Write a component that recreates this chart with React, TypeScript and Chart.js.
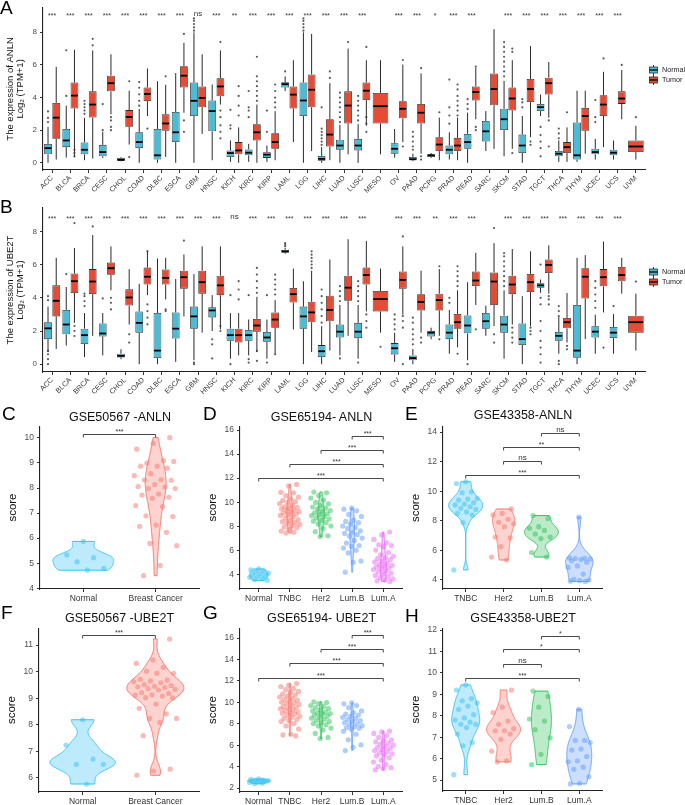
import React, { useEffect, useRef } from "react";
import { Chart, registerables } from "chart.js";

Chart.register(...registerables);

const FONT = "'Liberation Sans', Arial, Helvetica, sans-serif";
Chart.defaults.font.family = FONT;

// ================= Panels A & B (TCGA pan-cancer boxplots) =================
const CANCERS = ["ACC","BLCA","BRCA","CESC","CHOL","COAD","DLBC","ESCA","GBM","HNSC","KICH","KIRC","KIRP","LAML","LGG","LIHC","LUAD","LUSC","MESO","OV","PAAD","PCPG","PRAD","READ","SARC","SKCM","STAD","TGCT","THCA","THYM","UCEC","UCS","UVM"];
const BOX_Y_TICKS = [0, 2, 4, 6, 8];

// [lower whisker, Q1, median, Q3, upper whisker]
const ANLN_NORMAL = [
  [0,0.52,0.9,1.16,2.2],[0.32,0.96,1.37,2.07,3.5],[0.16,0.52,0.8,1.25,2.75],[0.3,0.4,0.66,1.1,1.9],[0.1,0.12,0.18,0.3,0.35],
  [0,0.9,1.27,1.87,3.3],[0,0.2,0.46,2.07,5.0],[0,1.27,1.87,3.11,5.5],[0,2.87,3.8,4.92,8.0],[0.16,1.93,3.17,3.82,4.8],
  [0.06,0.36,0.6,0.76,1.37],[0.06,0.46,0.62,0.82,1.16],[0.06,0.3,0.5,0.65,1.06],[4.4,4.62,4.82,4.94,5.3],[0,2.87,3.82,4.92,8.0],
  [0,0.12,0.24,0.42,0.96],[0,0.8,1.06,1.41,2.33],[0,0.76,1.06,1.47,2.37],null,[0.32,0.56,0.86,1.2,2.07],
  [0.1,0.16,0.22,0.36,0.56],[0.3,0.36,0.46,0.52,0.6],[0.2,0.52,0.8,1.06,1.87],[0,0.86,1.27,1.77,3.07],[0.72,1.31,1.93,2.57,3.17],
  [0.4,2.01,2.67,3.31,5.02],[0,0.6,1.06,1.73,2.87],[2.87,3.17,3.41,3.61,4.18],[0.06,0.4,0.56,0.72,1.37],[0.06,0.2,0.46,2.47,4.42],
  [0.2,0.52,0.66,0.86,1.47],[0.2,0.46,0.62,0.8,1.37],null,
];
const ANLN_TUMOR = [
  [0.2,1.47,2.77,3.67,5.88],[0.36,3.33,4.12,4.92,6.93],[0.26,2.77,3.57,4.38,6.89],[2.97,4.38,4.88,5.34,6.65],[1.12,2.21,2.81,3.23,4.42],
  [2.87,3.78,4.22,4.62,5.78],[0.36,1.97,2.41,2.97,4.78],[3.07,4.62,5.34,5.92,7.35],[1.77,3.41,3.98,4.68,6.65],[3.57,4.08,4.68,5.18,6.89],
  [0,0.52,0.76,1.27,2.17],[0,1.37,1.87,2.37,3.57],[0.16,0.86,1.27,1.81,3.17],[1.27,3.33,4.18,4.68,6.29],[0.72,3.41,4.48,5.42,7.9],
  [0.16,1.0,1.73,2.67,4.88],[0.52,2.41,3.51,4.38,7.0],[2.27,3.84,4.42,4.92,6.29],[0.52,2.41,3.47,4.28,6.29],[1.27,2.73,3.31,3.78,6.02],
  [0.56,2.41,3.07,3.61,5.48],[0.16,0.72,1.12,1.57,2.77],[0.16,0.72,1.06,1.53,2.77],[2.67,3.82,4.34,4.68,5.82],[0.86,3.53,4.52,5.48,8.19],
  [0.86,3.21,3.94,4.62,6.29],[1.57,3.73,4.52,5.14,7.15],[2.77,4.18,4.88,5.22,6.18],[0.06,0.6,0.96,1.27,2.17],[0.56,1.97,2.87,3.37,4.42],
  [0.96,2.87,3.57,4.14,5.58],[2.67,3.61,3.94,4.38,5.68],[0.2,0.66,1.0,1.37,2.27],
];
const ANLN_NORMAL_OUT = [
  [2.5,2.75,3.15],[4.1,6.9],[3.0,3.2,3.4,3.6,3.8],[2.0,3.6],[],[3.5,3.8,4.2,4.6,4.95],[],[],[8.1,8.3,8.5,8.7,8.85],[],
  [2.1,2.3,3.25],[2.8,3.2,3.4,4.4],[1.9,3.2],[5.6],[8.1,8.3,8.5,8.7,8.85],[1.1,1.3,1.5,1.7,1.9,2.1,3.4],[2.5,2.8,3.1,3.4,3.7,4.0,4.3],
  [2.6,2.9,3.2,3.5,3.8,4.1],[],[],[0.8,1.0,1.3,1.6,1.9],[],[2.4,2.9,3.4,5.1],[3.3,3.6,3.9],[],[5.3,5.6,5.9,6.2,6.5,6.8,7.1,7.4],
  [3.4,3.7,3.9],[0.4,0.9,1.3,1.7,2.2],[1.5,1.8,2.1],[],[2.5,2.8,3.85],[],[],
];
const ANLN_TUMOR_OUT = [
  [],[0.4,0.6,0.8],[7.2,7.6],[2.0,2.2,2.6,2.8],[0.35,5.0],[2.1],[5.3],[1.9,2.6,7.9],[],[1.5,1.9,2.3,2.8,3.2,7.4],
  [2.9,3.5,4.1,4.7],[3.8,4.1,4.4,4.7,5.0,5.3,6.5],[3.4,3.7,4.0,4.4,4.8],[],[],[5.2,5.6],[7.4],[1.9,2.4,2.8,7.1],[],[1.0,6.3],
  [0.2,0.4,5.8],[3.1],[2.9,3.2,3.5,3.8,4.1,4.5,4.8],[2.0,2.2,5.9],[],[0.6,6.8,7.0],[1.1,1.3],[1.0,2.6],[3.1],[],[6.4],[6.0],[2.8],
];
const ANLN_SIG = ["***","***","***","***","***","***","***","***","ns","***","**","***","***","***","***","***","***","***","","***","***","*","***","***","","***","***","***","***","***","***","***",""];

const UBE2T_NORMAL = [
  [0.73,1.51,2.16,2.53,3.47],[1.12,1.8,2.39,3.27,4.65],[0.43,1.22,1.75,2.14,3.08],[0.53,1.67,1.85,2.45,3.08],[0.3,0.4,0.5,0.63,0.9],
  [0,1.9,2.49,3.18,4.84],[0,0.37,0.82,3.08,6.37],[0.14,1.55,2.14,3.12,5.14],[0.24,2.14,2.88,3.47,5.43],[2.0,2.82,3.24,3.43,4.16],
  [0.33,1.41,1.75,2.14,3.08],[0.53,1.41,1.75,2.06,2.69],[0.33,1.35,1.61,1.94,2.69],[6.65,6.71,6.8,6.9,7.0],[0,2.14,2.88,3.47,5.0],
  [0,0.43,0.78,1.15,2.29],[0.53,1.61,1.96,2.39,3.57],[0.33,1.57,1.96,2.49,3.57],null,[0.14,0.59,0.96,1.27,1.9],
  [0,0.24,0.37,0.53,0.92],[1.5,1.67,1.9,2.0,2.2],[0.63,1.51,1.9,2.39,3.27],[0.24,1.86,2.33,2.94,4.94],[1.71,2.14,2.59,3.08,3.53],
  [0.33,1.9,2.39,2.92,4.45],[0,1.16,1.51,2.45,4.1],[4.3,4.61,4.75,4.88,5.1],[0.63,1.41,1.71,1.94,2.84],[0,0.39,0.82,3.57,6.41],
  [0.63,1.61,1.96,2.29,2.98],[0.63,1.57,1.9,2.24,3.02],null,
];
const UBE2T_TUMOR = [
  [0.92,2.88,3.82,4.75,6.41],[2.49,4.29,5.0,5.47,7.0],[1.71,4.22,4.98,5.73,7.78],[4.45,5.39,5.78,6.12,7.1],[2.39,3.53,4.02,4.51,5.73],
  [4.16,4.8,5.27,5.82,6.84],[3.9,4.8,5.2,5.71,6.41],[2.88,4.55,5.24,5.63,6.61],[1.9,4.25,4.94,5.63,7.1],[2.1,4.16,4.75,5.33,7.1],
  [0.53,1.31,1.75,2.14,3.08],[0.73,1.96,2.33,2.73,4.06],[0.63,2.2,2.69,3.12,3.86],[2.1,3.71,4.22,4.59,5.76],[0.73,2.53,3.12,3.76,5.63],
  [0.82,2.59,3.27,4.12,6.31],[1.71,3.82,4.61,5.33,7.53],[3.18,4.8,5.37,5.82,7.43],[1.9,3.18,3.92,4.41,5.76],[2.98,4.55,5.08,5.59,7.1],
  [1.9,3.24,3.75,4.22,5.63],[1.71,3.24,3.86,4.25,5.73],[1.02,2.14,2.53,3.02,4.45],[3.57,4.71,5.04,5.59,6.71],[2.29,3.57,4.98,5.53,7.29],
  [2.39,4.22,4.8,5.33,6.94],[2.29,4.35,4.94,5.43,6.8],[4.25,5.49,5.98,6.31,7.16],[1.31,2.16,2.53,2.78,4.29],[1.51,3.96,5.27,5.78,6.57],
  [3.12,4.69,5.24,5.73,7.39],[4.25,5.0,5.37,5.86,6.41],[0.82,1.9,2.53,2.92,4.25],
];
const UBE2T_NORMAL_OUT = [
  [0,0.3,0.6,0.8,3.86,4.1],[5.43],[3.5,3.8,4.1,4.25],[3.96],[],[],[],[],[0,0.1],[0.35,1.2,1.5],
  [0,4.16],[0.1,0.3,4.16],[0.1,4.16],[7.1,7.2,7.3],[],[2.5,2.9,3.3,3.7,4.1,4.5],[0.35,3.8,4.1,4.4,4.7],[0.1,3.8,4.1,4.4,4.7,5.0],[],[2.1,2.4,2.7,3.0],
  [1.2,1.5,1.8,2.1,2.5,2.8],[],[3.7,4.0],[0],[],[4.7,5.0,5.3,5.6,5.9,6.2,6.5,6.7],[],[0.1,0.6,1.0,1.4,2.0,2.6,3.6,4.0,6.0],[0,0.2,2.9,3.2,3.5],[],
  [3.4,3.8,4.2,4.6,5.0],[3.5],[],
];
const UBE2T_TUMOR_OUT = [
  [],[1.7,2.0,2.3,8.5],[8.3],[3.3,3.7,4.0],[1.3,1.8],[2.4,2.8,3.2,3.6,6.8],[3.2,3.3],[7.45],[],[2.0,2.3],
  [3.9,4.5,5.0],[0.2,0.8,4.3,4.6,5.0,5.4,5.8],[0.6,4.2,4.5,4.8,5.1,5.4],[],[5.8,6.0,6.2,6.4,6.6,6.8],[],[],[2.2,2.6,3.0],[1.05],[0,2.2,2.6,2.9,7.7],
  [1.3,1.6],[1.5,5.9],[0.63,4.7,5.0,5.3,5.6,5.9],[2.1],[1.3,1.8,8.2],[1.3,1.6,1.9,2.2],[1.8,2.0,2.2],[3.6,3.9,4.1],[0.9,1.1],[],[1.0],[],[4.98],
];
const UBE2T_SIG = ["***","***","***","***","***","***","***","***","***","***","ns","***","***","***","***","***","***","***","","***","***","**","***","***","","***","***","***","***","***","***","***",""];

// ================= Panels C–H (GEO violin plots) =================
const C_LABELS = ["Normal", "Breast Cancer"];
const C_NORMAL = [5.87, 5.33, 5.22, 5.05, 4.79, 4.72];
const C_CANCER = [10.01, 9.78, 9.55, 9.09, 8.99, 9.06, 8.87, 8.87, 8.79, 8.57, 8.49, 8.33, 8.32, 8.31, 8.14, 8.06, 8.04, 7.98, 7.98, 7.76, 7.72, 7.63, 7.59, 7.30, 7.26, 6.89, 6.86, 6.52, 6.47, 6.23, 5.79, 5.70, 4.91, 4.50];
const C_Y_TICKS = [4, 5, 6, 7, 8, 9, 10];

const F_NORMAL = [8.19, 7.24, 6.71, 6.51, 6.51, 5.77];
const F_CANCER = [11.23, 10.44, 10.31, 10.16, 10.02, 9.94, 9.94, 9.71, 9.68, 9.65, 9.62, 9.58, 9.51, 9.48, 9.45, 9.43, 9.40, 9.36, 9.33, 9.31, 9.21, 9.18, 9.13, 9.12, 9.08, 9.02, 9.01, 8.78, 8.62, 8.41, 8.24, 8.24, 8.09, 7.59, 6.33, 6.26, 6.10];
const F_Y_TICKS = [6, 7, 8, 9, 10, 11];

const SUBTYPE5 = ["Normal", "TNBC", "Her2", "Lum.B", "Lum.A"];
const D_NORMAL = [4.45, 4.38, 4.3, 4.2, 4.1, 4.05, 3.95, 3.9, 3.8, 3.75, 3.65, 3.55, 3.5];
const D_TNBC = [11.48, 11.35, 10.82, 10.78, 10.55, 10.42, 10.28, 10.15, 10.05, 9.96, 9.88, 9.75, 9.62, 9.58, 9.5, 9.44, 9.36, 9.3, 9.22, 9.18, 9.1, 9.02, 8.96, 8.9, 8.78, 8.66, 8.55, 8.46, 8.38, 8.3, 8.24, 8.15, 8.05, 7.96, 7.88, 7.75, 7.6, 7.5, 7.44];
const D_HER2 = [10.85, 10.78, 10.55, 10.35, 10.18, 9.98, 9.86, 9.72, 9.6, 9.5, 9.42, 9.3, 9.22, 9.12, 9.04, 8.98, 8.88, 8.8, 8.7, 8.62, 8.5, 8.42, 8.3, 8.18, 8.02, 7.8, 7.55, 7.2, 7.14];
const D_LUMB = [9.5, 9.42, 9.28, 8.98, 8.82, 8.52, 8.4, 8.3, 8.18, 8.02, 7.9, 7.8, 7.62, 7.5, 7.4, 7.3, 7.18, 7.02, 6.82, 6.6, 6.4, 6.32, 6.18, 6.0, 5.78, 5.1, 5.0, 4.18];
const D_LUMA = [7.52, 7.28, 6.9, 6.62, 6.45, 6.4, 6.3, 6.02, 5.8, 5.62, 5.5, 5.4, 5.3, 5.22, 5.1, 5.02, 4.92, 4.82, 4.75, 4.7, 4.62, 4.52, 4.45, 4.4, 4.3, 4.2, 4.1, 4.02, 3.9, 3.8, 3.72, 3.62, 3.52, 3.45, 3.4];
const D_Y_TICKS = [4, 6, 8, 10, 12, 14, 16];

const G_NORMAL = [2.85, 2.8, 2.75, 2.72, 2.7, 2.66, 2.63, 2.6, 2.56, 2.52, 2.45, 2.4];
const G_TNBC = [11.76, 11.6, 11.48, 11.3, 11.18, 11.02, 10.9, 10.78, 10.7, 10.58, 10.5, 10.38, 10.3, 10.2, 10.12, 10.02, 9.96, 9.88, 9.8, 9.7, 9.6, 9.52, 9.46, 9.4, 9.3, 9.22, 9.12, 9.04, 8.98, 8.9, 8.8, 8.7, 8.62, 8.5, 8.4, 8.3, 8.2, 8.02, 7.8, 7.5, 7.02, 6.96, 6.86];
const G_HER2 = [10.05, 9.98, 9.88, 9.7, 9.6, 9.5, 9.42, 9.3, 9.2, 9.1, 9.02, 8.96, 8.9, 8.8, 8.7, 8.62, 8.52, 8.42, 8.32, 8.22, 8.1, 8.02, 7.9, 7.8, 7.6, 7.42, 7.1, 6.72, 6.62];
const G_LUMB = [9.95, 9.86, 9.7, 9.5, 9.2, 9.02, 8.9, 8.82, 8.7, 8.6, 8.5, 8.4, 8.3, 8.2, 8.1, 8.0, 7.92, 7.82, 7.72, 7.62, 7.58, 7.5, 7.3, 7.02, 6.5, 6.02, 5.8, 5.5];
const G_LUMA = [7.32, 7.24, 7.1, 6.9, 6.72, 6.5, 6.4, 6.3, 6.2, 6.1, 6.02, 5.9, 5.8, 5.72, 5.6, 5.5, 5.42, 5.3, 5.2, 5.1, 5.0, 4.82, 4.6, 4.42, 4.2, 4.02, 3.9, 3.8, 3.7];
const G_Y_TICKS = [2, 4, 6, 8, 10, 12, 14, 16];

const SUBTYPE4 = ["TNBC", "Her2", "Lum.B", "Lum.A"];
const E_TNBC = [10.64, 10.52, 9.96, 9.89, 9.5, 9.46, 9.4, 9.22, 9.13, 9.06, 8.95, 8.84, 8.77, 8.6, 8.5, 8.39, 7.87, 4.68];
const E_HER2 = [8.8, 8.5, 8.4, 8.1, 7.9, 7.8, 7.6, 6.9, 6.85, 6.25, 5.55, 5.35];
const E_LUMB = [8.35, 8.15, 7.6, 7.5, 7.35, 7.1, 6.9, 6.8, 5.85, 5.55];
const E_LUMA = [8.25, 5.5, 5.47, 5.45, 5.42, 5.38, 5.3, 5.2, 4.95, 4.85, 4.4, 4.05, 4.0, 3.95, 3.92, 3.9];
const E_Y_TICKS = [4, 6, 8, 10, 12, 14];

const H_TNBC = [9.44, 9.2, 8.8, 8.7, 8.6, 8.45, 8.3, 8.05, 7.9, 7.8, 7.7, 7.6, 7.6, 7.45, 7.15, 6.75, 6.6, 5.25];
const H_HER2 = [9.2, 8.4, 8.15, 7.75, 7.6, 7.4, 7.3, 7.3, 7.15, 6.9, 6.35, 5.9, 5.85];
const H_LUMB = [9.15, 8.9, 8.4, 7.85, 7.75, 7.35, 6.97, 6.2, 5.72];
const H_LUMA = [8.3, 7.5, 6.85, 6.85, 6.75, 6.45, 6.4, 6.1, 5.9, 5.85, 5.6, 5.5, 5.15, 4.85, 4.82];
const H_Y_TICKS = [5, 6, 7, 8, 9, 10, 11, 12];

// significance brackets: [group from, group to, y, label]
const C_BRACKETS: [number, number, number, string][] = [[1, 2, 10.15, "***"]];
const D_BRACKETS: [number, number, number, string][] = [[4, 5, 15.5, "***"], [3, 5, 14.37, "***"], [2, 5, 13.2, "***"], [1, 5, 12.0, "***"]];
const E_BRACKETS: [number, number, number, string][] = [[3, 4, 13.93, "ns"], [2, 4, 12.99, "**"], [2, 3, 12.04, "ns"], [1, 4, 11.1, "***"]];
const F_BRACKETS: [number, number, number, string][] = [[1, 2, 11.38, "***"]];
const G_BRACKETS: [number, number, number, string][] = [[4, 5, 16.28, "***"], [3, 5, 14.97, "***"], [2, 5, 13.66, "***"], [1, 5, 12.26, "***"]];
const H_BRACKETS: [number, number, number, string][] = [[3, 4, 11.72, "*"], [2, 4, 11.12, "*"], [2, 3, 10.43, "ns"], [1, 4, 9.78, "***"]];

// ---------------- styling ----------------
const NORMAL_BOX = "#4DBBD5";
const TUMOR_BOX = "#E64B35";
const SKY = "#35C2F2";
const RED = "#F8766D";
const GREEN = "#2EC25A";
const BLUE = "#619CFF";
const MAGENTA = "#E76BF3";

function rgba(hex: string, a: number) {
  const n = parseInt(hex.slice(1), 16);
  return `rgba(${(n >> 16) & 255},${(n >> 8) & 255},${n & 255},${a})`;
}

const axisGrid = { display: true, drawOnChartArea: false, drawTicks: true, tickLength: 3, color: "#333", lineWidth: 1, offset: false };
const axisBorder = { display: true, color: "#222", width: 1.1 };

// ---------------- boxplot chart ----------------
function boxConfig(normal: any[], tumor: any[], nOut: number[][], tOut: number[][], sig: string[], yMin: number, yMax: number, sigY: number, yTitle: string[], padTop: number, xAxisH: number) {
  const stats = [normal, tumor];
  const outs = [nOut, tOut];
  const plugin = {
    id: "boxParts",
    beforeDatasetsDraw(chart: any) {
      const ctx = chart.ctx;
      const y = chart.scales.y;
      ctx.save();
      ctx.strokeStyle = "#2a2a2a";
      ctx.lineWidth = 1;
      stats.forEach((arr, di) => {
        const meta = chart.getDatasetMeta(di);
        arr.forEach((s: any, j: number) => {
          if (!s) return;
          const el = meta.data[j];
          ctx.beginPath();
          ctx.moveTo(el.x, y.getPixelForValue(s[0]));
          ctx.lineTo(el.x, y.getPixelForValue(s[1]));
          ctx.moveTo(el.x, y.getPixelForValue(s[3]));
          ctx.lineTo(el.x, y.getPixelForValue(s[4]));
          ctx.stroke();
        });
      });
      ctx.restore();
    },
    afterDatasetsDraw(chart: any) {
      const ctx = chart.ctx;
      const y = chart.scales.y;
      const x = chart.scales.x;
      ctx.save();
      stats.forEach((arr, di) => {
        const meta = chart.getDatasetMeta(di);
        arr.forEach((s: any, j: number) => {
          if (!s) return;
          const el = meta.data[j];
          const py = y.getPixelForValue(s[2]);
          ctx.strokeStyle = "#000";
          ctx.lineWidth = 1.8;
          ctx.beginPath();
          ctx.moveTo(el.x - el.width / 2 + 0.5, py);
          ctx.lineTo(el.x + el.width / 2 - 0.5, py);
          ctx.stroke();
          ctx.fillStyle = "rgba(50,50,50,0.8)";
          outs[di][j].forEach((v) => {
            ctx.beginPath();
            ctx.arc(el.x, y.getPixelForValue(v), 1.1, 0, Math.PI * 2);
            ctx.fill();
          });
        });
      });
      ctx.fillStyle = "#333";
      ctx.textAlign = "center";
      ctx.textBaseline = "middle";
      sig.forEach((lab, j) => {
        if (!lab) return;
        ctx.font = `${lab === "ns" ? 8 : 7}px ${FONT}`;
        ctx.fillText(lab, x.getPixelForValue(j), y.getPixelForValue(sigY) + (lab === "ns" ? -1 : 1));
      });
      ctx.restore();
    },
  };
  const common = { borderColor: "#2a2a2a", borderWidth: 0.8, borderSkipped: false, categoryPercentage: 0.9, barPercentage: 0.95, skipNull: true };
  return {
    type: "bar",
    data: {
      labels: CANCERS,
      datasets: [
        { label: "Normal", data: normal.map((s) => (s ? [s[1], s[3]] : null)), backgroundColor: NORMAL_BOX, ...common },
        { label: "Tumor", data: tumor.map((s) => (s ? [s[1], s[3]] : null)), backgroundColor: TUMOR_BOX, ...common },
      ],
    },
    options: {
      responsive: false,
      animation: false,
      devicePixelRatio: 1,
      events: [],
      layout: { padding: { top: padTop, right: 5, left: 0, bottom: 0 } },
      plugins: { legend: { display: false }, tooltip: { enabled: false } },
      scales: {
        x: {
          type: "category",
          offset: true,
          grid: axisGrid,
          border: axisBorder,
          ticks: { autoSkip: false, minRotation: 45, maxRotation: 45, font: { size: 7.2 }, color: "#333", padding: 1 },
          afterFit: (s: any) => { s.height = xAxisH; },
        },
        y: {
          min: yMin,
          max: yMax,
          afterBuildTicks: (s: any) => { s.ticks = BOX_Y_TICKS.map((v) => ({ value: v })); },
          grid: axisGrid,
          border: axisBorder,
          ticks: { font: { size: 8 }, color: "#4d4d4d", padding: 3 },
          title: { display: true, text: yTitle, font: { size: 9.5, lineHeight: 1.05 }, color: "#111", padding: { top: 5, bottom: 0 } },
          afterFit: (s: any) => { s.width = 43; },
        },
      },
    },
    plugins: [plugin],
  };
}

// ---------------- violin chart ----------------
function quantile(sorted: number[], p: number) {
  const h = (sorted.length - 1) * p;
  const lo = Math.floor(h);
  const hi = Math.min(lo + 1, sorted.length - 1);
  return sorted[lo] + (h - lo) * (sorted[hi] - sorted[lo]);
}
function bwNrd0(x: number[]) {
  const n = x.length;
  const mean = x.reduce((a, b) => a + b, 0) / n;
  const sd = Math.sqrt(x.reduce((a, b) => a + (b - mean) * (b - mean), 0) / (n - 1));
  const s = [...x].sort((a, b) => a - b);
  const iqr = quantile(s, 0.75) - quantile(s, 0.25);
  let lo = Math.min(sd, iqr / 1.34);
  if (!(lo > 0)) lo = sd || 1;
  return 0.9 * lo * Math.pow(n, -0.2);
}
function kde(x: number[], steps = 160) {
  const bw = bwNrd0(x);
  const min = Math.min(...x), max = Math.max(...x);
  const ys: number[] = [], ds: number[] = [];
  for (let k = 0; k <= steps; k++) {
    const v = min + ((max - min) * k) / steps;
    let d = 0;
    for (const xi of x) { const z = (v - xi) / bw; d += Math.exp(-0.5 * z * z); }
    ys.push(v);
    ds.push(d / (x.length * bw * Math.sqrt(2 * Math.PI)));
  }
  return { ys, ds };
}
const jitter = (i: number) => ((i * 0.6180339887 + 0.5) % 1) * 2 - 1;

function violinConfig(groups: number[][], labels: string[], colors: string[], yMin: number, yMax: number, yTicks: number[], brackets: [number, number, number, string][], maxHalf: number, spread: number, padTop: number, xAxisH: number) {
  const plugin = {
    id: "violins",
    beforeDatasetsDraw(chart: any) {
      const { ctx } = chart;
      const x = chart.scales.x, y = chart.scales.y;
      const dens = groups.map((g) => kde(g));
      const maxD = Math.max(...dens.map((d) => Math.max(...d.ds)));
      ctx.save();
      dens.forEach((d, gi) => {
        const cx = gi + 1;
        ctx.beginPath();
        d.ys.forEach((v, k) => {
          const px = x.getPixelForValue(cx - (d.ds[k] / maxD) * maxHalf);
          const py = y.getPixelForValue(v);
          if (k === 0) ctx.moveTo(px, py); else ctx.lineTo(px, py);
        });
        for (let k = d.ys.length - 1; k >= 0; k--) {
          ctx.lineTo(x.getPixelForValue(cx + (d.ds[k] / maxD) * maxHalf), y.getPixelForValue(d.ys[k]));
        }
        ctx.closePath();
        ctx.fillStyle = rgba(colors[gi], 0.32);
        ctx.fill();
        ctx.strokeStyle = colors[gi];
        ctx.lineWidth = 1;
        ctx.stroke();
      });
      ctx.restore();
    },
    afterDatasetsDraw(chart: any) {
      const { ctx } = chart;
      const x = chart.scales.x, y = chart.scales.y;
      ctx.save();
      ctx.strokeStyle = "#333";
      ctx.lineWidth = 0.9;
      ctx.fillStyle = "#333";
      ctx.textAlign = "center";
      ctx.textBaseline = "bottom";
      brackets.forEach(([g1, g2, v, lab]) => {
        const x1 = x.getPixelForValue(g1), x2 = x.getPixelForValue(g2), py = Math.round(y.getPixelForValue(v)) + 0.5;
        ctx.beginPath();
        ctx.moveTo(x1, py + 3);
        ctx.lineTo(x1, py);
        ctx.lineTo(x2, py);
        ctx.lineTo(x2, py + 3);
        ctx.stroke();
        ctx.font = `${lab === "ns" ? 8 : 7}px ${FONT}`;
        ctx.fillText(lab, (x1 + x2) / 2, py - (lab === "ns" ? 0 : -1));
      });
      ctx.restore();
    },
  };
  return {
    type: "scatter",
    data: {
      datasets: groups.map((g, gi) => ({
        label: labels[gi],
        data: g.map((v, i) => ({ x: gi + 1 + jitter(i + gi * 7) * spread, y: v })),
        pointRadius: 2.6,
        pointBackgroundColor: rgba(colors[gi], 0.5),
        pointBorderWidth: 0,
      })),
    },
    options: {
      responsive: false,
      animation: false,
      devicePixelRatio: 1,
      events: [],
      layout: { padding: { top: padTop, right: 3, left: 0, bottom: 0 } },
      plugins: { legend: { display: false }, tooltip: { enabled: false } },
      scales: {
        x: {
          type: "linear",
          min: 0.4,
          max: labels.length + 0.6,
          afterBuildTicks: (s: any) => { s.ticks = labels.map((_, i) => ({ value: i + 1 })); },
          grid: axisGrid,
          border: axisBorder,
          ticks: { autoSkip: false, maxRotation: 0, font: { size: 8.5 }, color: "#333", padding: 2, callback: (v: any) => labels[Math.round(v) - 1] ?? "" },
          afterFit: (s: any) => { s.height = xAxisH; },
        },
        y: {
          min: yMin,
          max: yMax,
          afterBuildTicks: (s: any) => { s.ticks = yTicks.map((v) => ({ value: v })); },
          grid: axisGrid,
          border: axisBorder,
          ticks: { font: { size: 8.5 }, color: "#4d4d4d", padding: 3 },
          title: { display: true, text: "score", font: { size: 11.5 }, color: "#111", padding: { top: 4, bottom: 0 } },
          afterFit: (s: any) => { s.width = 38; },
        },
      },
    },
    plugins: [plugin],
  };
}

// ---------------- React pieces ----------------
function ChartCanvas({ left, top, width, height, make }: any) {
  const ref = useRef<HTMLCanvasElement>(null);
  useEffect(() => {
    const chart = new Chart(ref.current as HTMLCanvasElement, make() as any);
    return () => chart.destroy();
  }, []);
  return <canvas ref={ref} width={width} height={height} style={{ position: "absolute", left, top, width, height }} />;
}

function Letter({ x, y, children }: any) {
  return <div style={{ position: "absolute", left: x, top: y, fontSize: 19, lineHeight: "19px", color: "#000" }}>{children}</div>;
}
function Title({ left, width, cy, children }: any) {
  return <div style={{ position: "absolute", left, width, top: cy - 8, fontSize: 12.5, lineHeight: "16px", textAlign: "center", color: "#111", whiteSpace: "nowrap" }}>{children}</div>;
}
function LegendItem({ x, cy, color, label }: any) {
  return (
    <>
      <svg style={{ position: "absolute", left: x, top: cy - 5 }} width={9} height={10}>
        <line x1={4.5} x2={4.5} y1={0} y2={10} stroke="#333" strokeWidth={1} />
        <rect x={0.5} y={2} width={8} height={6} fill={color} stroke="#333" strokeWidth={0.8} />
        <line x1={0.5} x2={8.5} y1={5} y2={5} stroke="#000" strokeWidth={1.3} />
      </svg>
      <div style={{ position: "absolute", left: x + 13, top: cy - 5, fontSize: 7.2, lineHeight: "10px", color: "#222", whiteSpace: "nowrap" }}>{label}</div>
    </>
  );
}

export default function App() {
  return (
    <div style={{ position: "absolute", left: 0, top: 0, width: 685, height: 805, background: "#fff", overflow: "hidden", fontFamily: FONT }}>
      <ChartCanvas left={0} top={0} width={650} height={200}
        make={() => boxConfig(ANLN_NORMAL, ANLN_TUMOR, ANLN_NORMAL_OUT, ANLN_TUMOR_OUT, ANLN_SIG, -0.44, 9.5, 9.08, ["The expression of ANLN", "Log\u2082 (TPM+1)"], 5, 30)} />
      <ChartCanvas left={0} top={200} width={650} height={200}
        make={() => boxConfig(UBE2T_NORMAL, UBE2T_TUMOR, UBE2T_NORMAL_OUT, UBE2T_TUMOR_OUT, UBE2T_SIG, -0.47, 9.41, 8.82, ["The expression of UBE2T", "Log\u2082 (TPM+1)"], 8, 28)} />

      <ChartCanvas left={2} top={418} width={201} height={192}
        make={() => violinConfig([C_NORMAL, C_CANCER], C_LABELS, [SKY, RED], 3.97, 10.47, C_Y_TICKS, C_BRACKETS, 0.42, 0.3, 7, 21)} />
      <ChartCanvas left={202} top={418} width={204} height={192}
        make={() => violinConfig([D_NORMAL, D_TNBC, D_HER2, D_LUMB, D_LUMA], SUBTYPE5, [SKY, RED, GREEN, BLUE, MAGENTA], 2.78, 16.33, D_Y_TICKS, D_BRACKETS, 0.3, 0.33, 5, 21)} />
      <ChartCanvas left={405} top={418} width={201} height={192}
        make={() => violinConfig([E_TNBC, E_HER2, E_LUMB, E_LUMA], SUBTYPE4, [SKY, RED, GREEN, BLUE], 3.39, 14.34, E_Y_TICKS, E_BRACKETS, 0.45, 0.32, 9, 21)} />

      <ChartCanvas left={1} top={620} width={202} height={185}
        make={() => violinConfig([F_NORMAL, F_CANCER], C_LABELS, [SKY, RED], 5.47, 11.64, F_Y_TICKS, F_BRACKETS, 0.45, 0.3, 8, 13)} />
      <ChartCanvas left={202} top={620} width={204} height={185}
        make={() => violinConfig([G_NORMAL, G_TNBC, G_HER2, G_LUMB, G_LUMA], SUBTYPE5, [SKY, RED, GREEN, BLUE, MAGENTA], 1.63, 16.93, G_Y_TICKS, G_BRACKETS, 0.36, 0.33, 8, 13)} />
      <ChartCanvas left={405} top={620} width={201} height={185}
        make={() => violinConfig([H_TNBC, H_HER2, H_LUMB, H_LUMA], SUBTYPE4, [SKY, RED, GREEN, BLUE], 4.49, 12.09, H_Y_TICKS, H_BRACKETS, 0.45, 0.32, 7, 14)} />

      <LegendItem x={649} cy={70} color={NORMAL_BOX} label="Normal" />
      <LegendItem x={649} cy={80} color={TUMOR_BOX} label="Tumor" />
      <LegendItem x={649} cy={272} color={NORMAL_BOX} label="Normal" />
      <LegendItem x={649} cy={282} color={TUMOR_BOX} label="Tumor" />

      <Title left={40} width={160} cy={417}>GSE50567 -ANLN</Title>
      <Title left={240} width={163} cy={417}>GSE65194- ANLN</Title>
      <Title left={443} width={160} cy={415}>GSE43358-ANLN</Title>
      <Title left={39} width={161} cy={618}>GSE50567 -UBE2T</Title>
      <Title left={240} width={163} cy={618}>GSE65194- UBE2T</Title>
      <Title left={443} width={160} cy={618}>GSE43358-UBE2T</Title>

      <Letter x={0} y={-2}>A</Letter>
      <Letter x={0} y={197}>B</Letter>
      <Letter x={2} y={404}>C</Letter>
      <Letter x={203} y={404}>D</Letter>
      <Letter x={405} y={404}>E</Letter>
      <Letter x={1} y={603}>F</Letter>
      <Letter x={203} y={603}>G</Letter>
      <Letter x={405} y={606}>H</Letter>
    </div>
  );
}
